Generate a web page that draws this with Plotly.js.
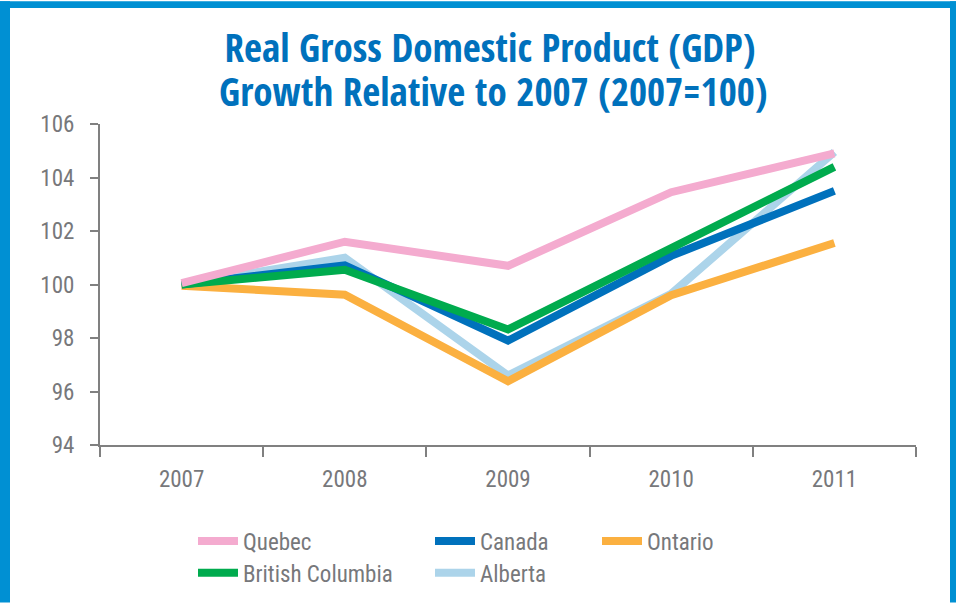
<!DOCTYPE html>
<html>
<head>
<meta charset="utf-8">
<script src="https://cdn.plot.ly/plotly-3.0.1.min.js"></script>
<style>
html,body{margin:0;padding:0;background:#fff;}
#chart{width:956px;height:607px;}
</style>
</head>
<body>
<div id="chart"></div>
<script>
const years = ['2007', '2008', '2009', '2010', '2011'];
const quebec  = [100.05, 101.6, 100.7, 103.45, 104.9];
const canada  = [100.0, 100.72, 97.9, 101.07, 103.5];
const ontario = [99.95, 99.62, 96.38, 99.6, 101.55];
const bc      = [100.0, 100.55, 98.32, 101.37, 104.4];
const alberta = [100.0, 101.0, 96.6, 99.65, 104.95];
const yTicks = [94, 96, 98, 100, 102, 104, 106];
const titleLine1 = 'Real Gross Domestic Product (GDP)';
const titleLine2 = 'Growth Relative to 2007 (2007=100)';

const FONT = '"Roboto Condensed", "DejaVu Sans Condensed", sans-serif';
const TFONT = '"Open Sans Condensed", "Roboto Condensed", sans-serif';
const GREY = '#77787b';
const BLUE = '#0071bc';

// plot area geometry (px) used for paper-coordinate placement of frame/legends
const L = 100, R = 40, T = 124, B = 159, W = 956, H = 607;
const pw = W - L - R, ph = H - T - B;
const px = x => (x - L) / pw;
const py = y => (H - B - y) / ph;

function tr(name, y, color, legendId, rank) {
  return {
    type: 'scatter', mode: 'lines', x: years, y: y, name: name,
    line: {color: color, width: 8, shape: 'linear'},
    legend: legendId, legendrank: rank, hoverinfo: 'x+y+name'
  };
}
const data = [
  tr('Alberta', alberta, '#acd4ea', 'legend5', 5),
  tr('Ontario', ontario, '#fbb040', 'legend3', 3),
  tr('Canada', canada, '#0071bc', 'legend2', 2),
  tr('British Columbia', bc, '#00ab4e', 'legend4', 4),
  tr('Quebec', quebec, '#f4abcf', 'legend', 1)
];

function leg(xp, yp) {
  return {x: px(xp), y: py(yp), xanchor: 'left', yanchor: 'middle', orientation: 'v',
    bgcolor: 'rgba(0,0,0,0)', borderwidth: 0, itemwidth: 40,
    font: {family: FONT, size: 23, color: GREY}};
}

const frameColor = '#0090d3';
const layout = {
  width: W, height: H,
  margin: {l: L, r: R, t: T, b: B},
  paper_bgcolor: '#fff', plot_bgcolor: '#fff',
  showlegend: true,
  title: {
    text: '<b>' + titleLine1 + '</b>',
    font: {family: TFONT, size: 39, color: BLUE},
    xref: 'container', x: 490 / W, xanchor: 'center',
    yref: 'container', y: 1 - 48 / H, yanchor: 'middle'
  },
  annotations: [{
    text: '<b>' + titleLine2 + '</b>', showarrow: false,
    xref: 'paper', yref: 'paper', x: px(493), y: py(90), xanchor: 'center', yanchor: 'middle',
    font: {family: TFONT, size: 39, color: BLUE}
  }],
  xaxis: {
    type: 'category', range: [-0.5, 4.5], tickson: 'boundaries',
    showgrid: false, zeroline: false,
    showline: true, linecolor: '#808080', linewidth: 2,
    ticks: 'outside', ticklen: 10, tickwidth: 2, tickcolor: '#808080',
    ticklabelstandoff: 12,
    tickfont: {family: FONT, size: 23, color: GREY}
  },
  yaxis: {
    range: [94, 106], tickvals: yTicks, ticktext: yTicks.map(String),
    showgrid: false, zeroline: false,
    showline: true, linecolor: '#808080', linewidth: 2,
    ticks: 'outside', ticklen: 8, tickwidth: 2, tickcolor: '#808080',
    ticklabelstandoff: 11,
    tickfont: {family: FONT, size: 23, color: GREY}
  },
  legend: leg(193, 545),
  legend2: leg(430, 545),
  legend3: leg(597, 545),
  legend4: leg(193, 577),
  legend5: leg(430, 577),
  shapes: [
    {type: 'rect', xref: 'paper', yref: 'paper', x0: px(0), x1: px(10), y0: py(H), y1: py(0), fillcolor: frameColor, line: {width: 0}, layer: 'above'},
    {type: 'rect', xref: 'paper', yref: 'paper', x0: px(0), x1: px(W), y0: py(7), y1: py(0), fillcolor: frameColor, line: {width: 0}, layer: 'above'},
    {type: 'rect', xref: 'paper', yref: 'paper', x0: px(950), x1: px(W), y0: py(H), y1: py(0), fillcolor: frameColor, line: {width: 0}, layer: 'above'}
  ]
};

Plotly.newPlot('chart', data, layout, {displayModeBar: false, staticPlot: true});
</script>
</body>
</html>
